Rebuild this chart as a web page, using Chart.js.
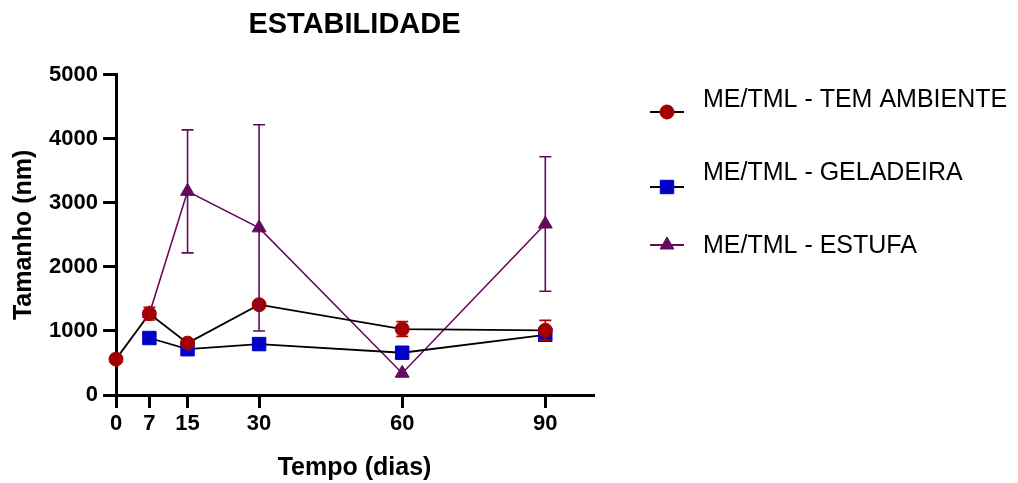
<!DOCTYPE html>
<html>
<head>
<meta charset="utf-8">
<title>Estabilidade</title>
<script src="https://cdn.jsdelivr.net/npm/chart.js@4.4.1/dist/chart.umd.min.js"></script>
<style>
  html, body { margin: 0; padding: 0; background: #fff; }
  #wrap { width: 1018px; height: 483px; position: relative; }
</style>
</head>
<body>
<div id="wrap"><canvas id="chartEstab"></canvas></div>
<script>
// dias de armazenamento e tamanhos medidos (nm)
const DIAS = [0, 7, 15, 30, 60, 90];
const AMBIENTE = [560, 1270, 810, 1410, 1030, 1010];
const AMBIENTE_ERR = [0, 100, 0, 0, 115, 155];
const GELADEIRA = [null, 890, 715, 795, 660, 940];
const ESTUFA = [null, 1270, 3180, 2610, 340, 2670];
const ESTUFA_ERR = [0, 0, 960, 1610, 0, 1050];
const SERIES = ['ME/TML - TEM AMBIENTE', 'ME/TML - GELADEIRA', 'ME/TML - ESTUFA'];

const FONT = '"Liberation Sans", Arial, sans-serif';
Chart.defaults.font.family = FONT;
Chart.defaults.color = '#000';

const COLORS = {
  red: '#A00000',
  redErr: '#B40000',
  blue: '#0000C8',
  purple: '#640A5F'
};

function toPoints(values) {
  return DIAS.map((d, i) => ({ x: d, y: values[i] }));
}

// barras de erro desenhadas sobre as escalas do Chart.js
const errorBars = {
  id: 'errorBars',
  afterDatasetsDraw(chart) {
    const { ctx, scales: { x, y } } = chart;
    chart.data.datasets.forEach(ds => {
      if (!ds.errors) return;
      ctx.save();
      ctx.strokeStyle = ds.errorColor;
      ctx.lineWidth = 1.6;
      ds.data.forEach((p, i) => {
        const e = ds.errors[i];
        if (!e || p.y == null) return;
        const px = x.getPixelForValue(p.x);
        const top = y.getPixelForValue(p.y + e);
        const bot = y.getPixelForValue(p.y - e);
        ctx.beginPath();
        ctx.moveTo(px, top); ctx.lineTo(px, bot);
        ctx.moveTo(px - 6, top); ctx.lineTo(px + 6, top);
        ctx.moveTo(px - 6, bot); ctx.lineTo(px + 6, bot);
        ctx.stroke();
      });
      ctx.restore();
    });
  }
};

// legenda à direita, como no original
const sideLegend = {
  id: 'sideLegend',
  afterDraw(chart) {
    const ctx = chart.ctx;
    const rows = [{ mark: 112, text: 107 }, { mark: 187, text: 180 }, { mark: 245, text: 253 }];
    chart.data.datasets.forEach((ds, i) => {
      const r = rows[i];
      ctx.save();
      ctx.strokeStyle = ds.borderColor;
      ctx.lineWidth = 2;
      ctx.beginPath();
      ctx.moveTo(650, r.mark);
      ctx.lineTo(684, r.mark);
      ctx.stroke();
      ctx.fillStyle = ds.pointBackgroundColor;
      ctx.strokeStyle = ds.pointBorderColor;
      ctx.lineWidth = 1;
      Chart.helpers.drawPoint(ctx, { pointStyle: ds.pointStyle, radius: ds.pointRadius, borderWidth: 1, rotation: 0 }, 667, r.mark);
      ctx.fillStyle = '#000';
      ctx.font = '25px ' + FONT;
      ctx.textBaseline = 'alphabetic';
      ctx.fillText(ds.label, 703, r.text);
      ctx.restore();
    });
  }
};

new Chart(document.getElementById('chartEstab'), {
  type: 'line',
  data: {
    datasets: [
      {
        label: SERIES[0],
        data: toPoints(AMBIENTE),
        errors: AMBIENTE_ERR,
        errorColor: COLORS.redErr,
        borderColor: '#000',
        borderWidth: 1.8,
        pointStyle: 'circle',
        pointRadius: 7,
        pointBackgroundColor: COLORS.red,
        pointBorderColor: COLORS.red,
        pointBorderWidth: 1,
        clip: false
      },
      {
        label: SERIES[1],
        data: toPoints(GELADEIRA),
        borderColor: '#000',
        borderWidth: 1.8,
        pointStyle: 'rect',
        pointRadius: 9.5,
        pointBackgroundColor: COLORS.blue,
        pointBorderColor: COLORS.blue,
        pointBorderWidth: 1,
        clip: false
      },
      {
        label: SERIES[2],
        data: toPoints(ESTUFA),
        errors: ESTUFA_ERR,
        errorColor: COLORS.purple,
        borderColor: COLORS.purple,
        borderWidth: 1.6,
        pointStyle: 'triangle',
        pointRadius: 8,
        pointBackgroundColor: COLORS.purple,
        pointBorderColor: COLORS.purple,
        pointBorderWidth: 1,
        clip: false
      }
    ]
  },
  options: {
    responsive: true,
    maintainAspectRatio: false,
    animation: false,
    layout: { padding: { left: 0, right: 425, top: 0, bottom: 0 } },
    plugins: {
      legend: { display: false },
      tooltip: { enabled: false },
      title: {
        display: true,
        fullSize: false,
        text: 'ESTABILIDADE',
        color: '#000',
        font: { size: 29, weight: 'bold' },
        padding: { top: 8, bottom: 32 }
      }
    },
    scales: {
      x: {
        type: 'linear',
        min: 0,
        max: 100,
        afterBuildTicks: s => { s.ticks = DIAS.map(v => ({ value: v })); },
        afterFit: s => { s.height = 88; },
        border: { display: true, color: '#000', width: 3 },
        grid: { drawOnChartArea: false, drawTicks: true, tickLength: 13, lineWidth: 3, color: '#000' },
        ticks: { color: '#000', font: { size: 22, weight: 'bold' }, padding: 3, maxRotation: 0, autoSkip: false },
        title: { display: true, text: 'Tempo (dias)', color: '#000', font: { size: 25, weight: 'bold' }, padding: { top: 3, bottom: 0 } }
      },
      y: {
        min: 0,
        max: 5000,
        afterFit: s => { s.width = 116; },
        border: { display: true, color: '#000', width: 3 },
        grid: { drawOnChartArea: false, drawTicks: true, tickLength: 13, lineWidth: 3, color: '#000' },
        ticks: { color: '#000', stepSize: 1000, font: { size: 22, weight: 'bold' }, padding: 5, callback: v => String(v) },
        title: { display: true, text: 'Tamanho (nm)', color: '#000', font: { size: 25, weight: 'bold' }, padding: { top: 9, bottom: 0 } }
      }
    }
  },
  plugins: [errorBars, sideLegend]
});
</script>
</body>
</html>
